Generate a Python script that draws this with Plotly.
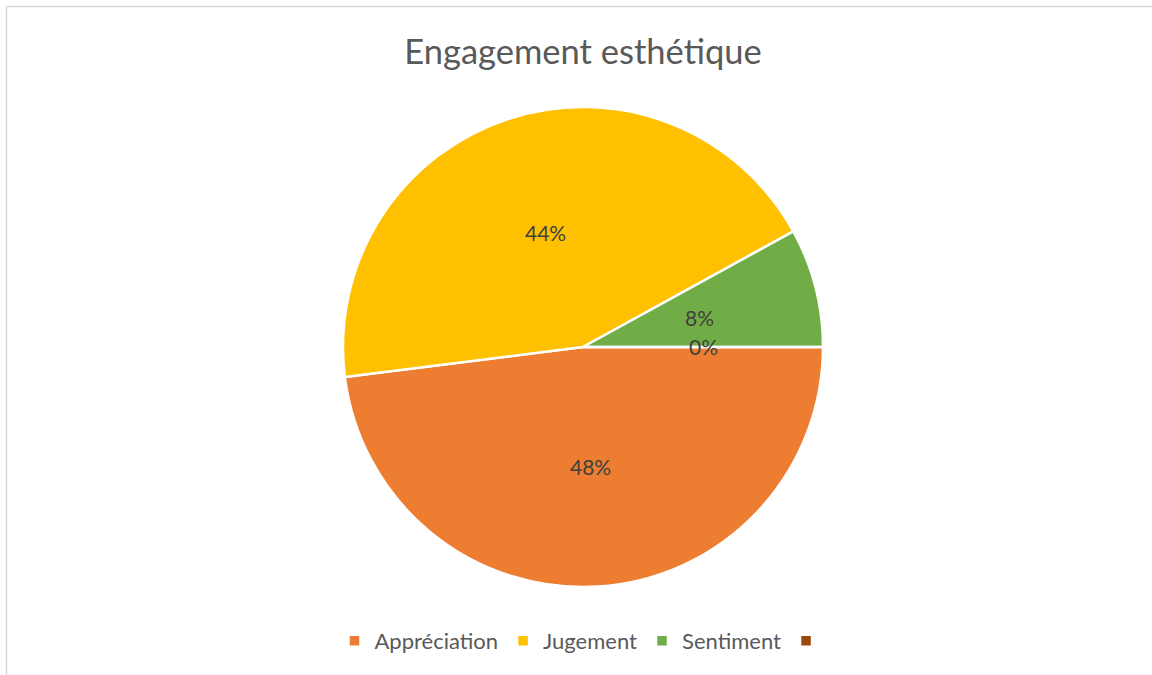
import math
import plotly.graph_objects as go

categories = ["Appréciation", "Jugement", "Sentiment", " "]
values = [12, 11, 2, 0]
colors = ["#ED7D31", "#FFC000", "#70AD47", "#9E480E"]

W, H = 1152, 675
cx, cy, R = 583, 347, 240
FONT = "Lato"

fig = go.Figure(go.Pie(
    labels=categories,
    values=values,
    sort=False,
    direction="clockwise",
    rotation=90,
    marker=dict(colors=colors, line=dict(color="white", width=2.5)),
    textinfo="none",
    domain=dict(x=[(cx - R) / W, (cx + R) / W], y=[(H - cy - R) / H, (H - cy + R) / H]),
    hoverinfo="label+percent",
    showlegend=True,
))

# data labels placed like Excel: at half radius along each slice's mid-angle
total = sum(values)
annotations = []
cum = 0.0
for v in values:
    frac = v / total
    mid = cum + frac / 2
    cum += frac
    ang = -2 * math.pi * mid  # clockwise from 3 o'clock
    px = cx + 0.5 * R * math.cos(ang)
    py = cy - 0.5 * R * math.sin(ang)
    annotations.append(dict(
        x=px / W, y=1 - py / H, xref="paper", yref="paper",
        text=f"{round(frac * 100)}%", showarrow=False,
        font=dict(family=FONT, size=21, color="#404040"),
        xanchor="center", yanchor="middle",
    ))

fig.update_layout(
    width=W, height=H,
    margin=dict(l=0, r=0, t=0, b=0),
    paper_bgcolor="white",
    font=dict(family=FONT, color="#595959"),
    title=dict(text="Engagement esthétique", x=583 / W, xanchor="center",
               y=1 - 52 / H, yanchor="middle",
               font=dict(size=34.5, color="#595959", family=FONT)),
    legend=dict(orientation="h", x=586 / W, xanchor="center", y=1 - 641 / H, yanchor="middle",
                font=dict(size=22, color="#595959", family=FONT), itemwidth=30, traceorder="normal"),
    annotations=annotations,
    shapes=[dict(type="rect", xref="paper", yref="paper",
                 x0=6.5 / W, y0=-0.05, x1=1.05, y1=1 - 6.5 / H,
                 line=dict(color="#D9D9D9", width=1.5), fillcolor="rgba(0,0,0,0)", layer="below")],
)

fig.write_html("out.html", config={"displayModeBar": False},
               post_script="document.body.style.margin='0';")
